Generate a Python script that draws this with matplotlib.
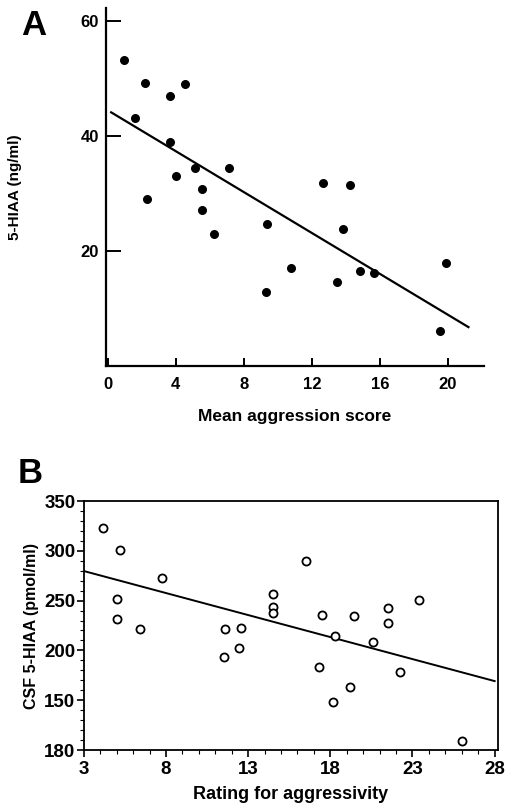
import numpy as np
import matplotlib
matplotlib.use('Agg')
import matplotlib.pyplot as plt
from matplotlib.ticker import MultipleLocator

plt.rcParams['font.family'] = ['Liberation Sans', 'DejaVu Sans']
plt.rcParams['font.weight'] = 'bold'

###### PANEL A DATA ######
a_score = [0.93, 2.18, 3.67, 4.53, 1.61, 3.63, 5.15, 4.0, 7.11, 5.52, 2.33, 5.54,
           6.22, 9.37, 12.65, 14.23, 13.8, 10.77, 13.49, 14.81, 15.67, 19.88, 9.29, 19.55]
a_hiaa = [53.2, 49.3, 46.9, 49.0, 43.1, 39.0, 34.5, 33.0, 34.5, 30.8, 29.1, 27.1,
          22.9, 24.7, 31.9, 31.5, 23.9, 17.0, 14.7, 16.5, 16.2, 17.9, 12.9, 6.1]
a_fit = (44.5, -1.78)   # intercept, slope
a_fit_range = (0.2, 21.2)
a_xticks = [0, 4, 8, 12, 16, 20]
a_yticks = [20, 40, 60]

###### PANEL B DATA ######
b_rating = [4.17, 5.23, 5.03, 5.0, 6.44, 7.75, 11.58, 12.55, 14.5, 14.5, 14.5, 16.54, 17.47,
            19.43, 21.5, 21.5, 23.42, 18.3, 20.57, 11.56, 12.43, 17.29, 22.25, 19.21, 18.18, 26.03]
b_hiaa = [323, 300.5, 251.3, 231.2, 221.5, 273, 221.8, 222.2, 256.6, 243.9, 237.9, 289.8, 235.2,
          234.8, 242.9, 227.5, 250.6, 214.8, 208, 193.7, 202.7, 183, 178, 163, 148.2, 109]
b_fit = (279.7, -4.42)  # value at x=3, slope
b_fit_range = (3, 28)
b_xticks = [3, 8, 13, 18, 23, 28]
b_yticks = [100, 150, 200, 250, 300, 350]
b_yticklabels = ['180', '150', '200', '250', '300', '350']  # as printed in the original

fig = plt.figure(figsize=(5.05, 8.09), dpi=100)

# ---- panel A ----
ax = fig.add_axes([0.210, 0.5476, 0.748, 0.4425])
ax.scatter(a_score, a_hiaa, s=30, color='black', zorder=3)
xs = np.array(a_fit_range)
ax.plot(xs, a_fit[0] + a_fit[1]*xs, color='black', lw=1.6)
ax.set_xlim(-0.1, 22.1)
ax.set_ylim(0, 62.3)
ax.set_xticks(a_xticks)
ax.set_yticks(a_yticks)
ax.spines['top'].set_visible(False)
ax.spines['right'].set_visible(False)
for s in ['left', 'bottom']:
    ax.spines[s].set_linewidth(1.6)
ax.tick_params(direction='in', width=1.4, labelsize=12)
ax.tick_params(axis='y', length=11, pad=5)
ax.tick_params(axis='x', length=6, pad=8)
ax.set_xlabel('Mean aggression score', fontsize=12.5, fontweight='bold', labelpad=12)
ax.set_ylabel('5-HIAA (ng/ml)', fontsize=11, fontweight='bold', labelpad=42)
fig.text(0.066, 0.968, 'A', fontsize=25, fontweight='bold', ha='center', va='center')

# ---- panel B ----
bx = fig.add_axes([0.166, 0.0729, 0.820, 0.3078])
bx.scatter(b_rating, b_hiaa, s=34, facecolors='white', edgecolors='black', linewidths=1.3, zorder=3)
xs = np.array(b_fit_range)
bx.plot(xs, b_fit[0] + b_fit[1]*(xs - 3), color='black', lw=1.4)
bx.set_xlim(3, 28.2)
bx.set_ylim(100, 350)
bx.set_xticks(b_xticks)
bx.set_yticks(b_yticks)
bx.set_yticklabels(b_yticklabels)
bx.xaxis.set_minor_locator(MultipleLocator(1))
bx.yaxis.set_minor_locator(MultipleLocator(10))
for s in bx.spines.values():
    s.set_linewidth(1.3)
bx.tick_params(which='major', direction='out', length=5, width=1.2, labelsize=13.5, pad=1)
bx.tick_params(axis='x', which='major', pad=3)
bx.tick_params(which='minor', direction='out', length=3, width=0.8)
bx.set_xlabel('Rating for aggressivity', fontsize=13, fontweight='bold', labelpad=6)
bx.set_ylabel('CSF 5-HIAA (pmol/ml)', fontsize=11.5, fontweight='bold', labelpad=4)
fig.text(0.06, 0.415, 'B', fontsize=25, fontweight='bold', ha='center', va='center')

fig.savefig('out.png', dpi=100)
